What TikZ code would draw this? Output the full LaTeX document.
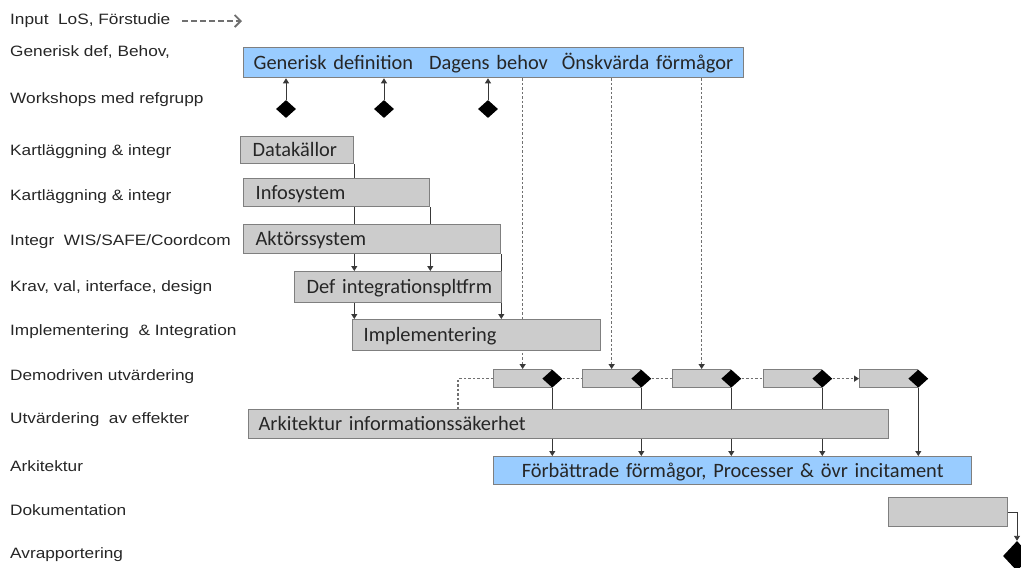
\documentclass[tikz,border=0pt]{standalone}
\usepackage{fontspec}
\setmainfont{Carlito}
\newfontfamily\lblfont[FakeStretch=1.15]{Liberation Sans}
\usetikzlibrary{shapes.geometric,arrows.meta}
\pgfdeclarelayer{back}
\pgfsetlayers{back,main}

\definecolor{boxgray}{HTML}{CCCCCC}
\definecolor{boxline}{HTML}{7F7F7F}
\definecolor{skyfill}{HTML}{99CCFF}
\definecolor{linkgray}{HTML}{383838}
\definecolor{hintgray}{HTML}{707070}
\definecolor{txt}{HTML}{262626}

\begin{document}
\begin{tikzpicture}[x=1pt,y=-1pt,
  rowlabel/.style={anchor=west, inner sep=0, font=\lblfont\fontsize{15}{17}\selectfont, text=txt},
  bar/.style={draw=boxline, line width=1.3pt, fill=boxgray, anchor=north west,
    inner xsep=12, inner ysep=0, align=left, text height=15pt, text depth=2pt,
    font=\fontsize{20.4}{22}\selectfont, text=txt},
  skybar/.style={bar, fill=skyfill},
  ms/.style={diamond, fill=black, inner sep=0, minimum width=20, minimum height=18},
  link/.style={draw=linkgray, line width=0.9pt},
  flow/.style={link, -{Triangle[length=5pt,width=6pt]}},
  hint/.style={draw=hintgray, line width=1.2pt, dash pattern=on 2.5pt off 2pt},
  hintflow/.style={hint, -{Triangle[length=5pt,width=6pt,color=linkgray,fill=linkgray]}},
  inarrow/.style={draw=hintgray, line width=2pt, dash pattern=on 6pt off 3pt,
    -{Straight Barb[length=6pt,width=12pt,line width=1.8pt]}},
]
\useasboundingbox (0,0) rectangle (1021,568);

% ---- row labels
\node[rowlabel] (lin)   at (10,21)  {Input~ LoS, Förstudie};
\node[rowlabel] (lgen)  at (10,52)  {Generisk def, Behov,};
\node[rowlabel] (lws)   at (10,100) {Workshops med refgrupp};
\node[rowlabel] (lk1)   at (10,152) {Kartläggning \& integr};
\node[rowlabel] (lk2)   at (10,197) {Kartläggning \& integr};
\node[rowlabel] (lint)  at (10,242) {Integr~ WIS/SAFE/Coordcom};
\node[rowlabel] (lkrav) at (10,288) {Krav, val, interface, design};
\node[rowlabel] (limp)  at (10,332) {Implementering~ \& Integration};
\node[rowlabel] (ldemo) at (10,377) {Demodriven utvärdering};
\node[rowlabel] (lutv)  at (10,420) {Utvärdering~ av effekter};
\node[rowlabel] (lark)  at (10,466) {Arkitektur};
\node[rowlabel] (ldok)  at (10,510) {Dokumentation};
\node[rowlabel] (lavr)  at (10,555) {Avrapportering};

\coordinate (inA) at (182,21);
\coordinate (inB) at (242,21);
\draw[inarrow] (inA) -- (inB);

% ---- bars
\node[skybar, minimum height=30, inner xsep=10, text width=480] (goal) at (243,47)
  {Generisk definition\hspace{16pt}Dagens behov\hspace{14pt}Önskvärda förmågor};

\node[bar, minimum height=27, text width=89]  (src)   at (240,136) {Datakällor};
\node[bar, minimum height=28, text width=162] (info)  at (243,178) {Infosystem};
\node[bar, minimum height=29, text width=233] (actor) at (243,224) {Aktörssystem};
\node[bar, minimum height=31, text width=183] (platf) at (294,271) {\mbox{Def integrationspltfrm}};
\node[bar, minimum height=31, inner xsep=11, text width=226] (impl) at (352,319) {Implementering};

\node[bar, minimum width=58, minimum height=18] (d1) at (493,369) {};
\node[bar, minimum width=58, minimum height=18] (d2) at (582,369) {};
\node[bar, minimum width=58, minimum height=18] (d3) at (672,369) {};
\node[bar, minimum width=58, minimum height=18] (d4) at (763,369) {};
\node[bar, minimum width=58, minimum height=18] (d5) at (859,369) {};

\node[bar, minimum height=29, inner xsep=10, text width=620] (arch) at (248,409)
  {Arkitektur informationssäkerhet};
\node[skybar, minimum height=28, text width=454, align=center] (better) at (493,456)
  {Förbättrade förmågor, Processer \& övr incitament};
\node[bar, minimum width=119, minimum height=29] (docu) at (888,497) {};

% ---- milestones
\node[ms] (w1) at (286,109) {};
\node[ms] (w2) at (384,109) {};
\node[ms] (w3) at (488,109) {};
\node[ms] (m1) at (d1.east) {};
\node[ms] (m2) at (d2.east) {};
\node[ms] (m3) at (d3.east) {};
\node[ms] (m4) at (d4.east) {};
\node[ms] (m5) at (d5.east) {};
\node[ms, minimum width=28, minimum height=30] (fin) at (1017,556) {};

\coordinate (turn) at (458,0);

% ---- connectors
\begin{pgfonlayer}{back}
  \draw[flow] (w1.north) -- (w1.north |- goal.south);
  \draw[flow] (w2.north) -- (w2.north |- goal.south);
  \draw[flow] (w3.north) -- (w3.north |- goal.south);

  \draw[link] (src.south east) -- (src.east |- info.north);
  \draw[link] (src.east |- info.south) -- (src.east |- actor.north);
  \draw[link] (info.south east) -- (info.east |- actor.north);
  \draw[flow] (src.east |- actor.south) -- (src.east |- platf.north);
  \draw[flow] (info.east |- actor.south) -- (info.east |- platf.north);
  \draw[flow] (actor.south east) -- (actor.east |- impl.north);
  \draw[flow] (src.east |- platf.south) -- (src.east |- impl.north);

  \draw[hintflow] (d1.north |- goal.south) -- (d1.north);
  \draw[hintflow] (d2.north |- goal.south) -- (d2.north);
  \draw[hintflow] (d3.north |- goal.south) -- (d3.north);

  \draw[hint] (m1.east) -- (d2.west);
  \draw[hint] (m2.east) -- (d3.west);
  \draw[hint] (m3.east) -- (d4.west);
  \draw[hintflow] (m4.east) -- (d5.west);
  \draw[hint] (d1.west) -- (d1.west -| turn) -- (turn |- arch.north);

  \draw[link] (m1.south) -- (m1.south |- arch.north);
  \draw[link] (m2.south) -- (m2.south |- arch.north);
  \draw[link] (m3.south) -- (m3.south |- arch.north);
  \draw[link] (m4.south) -- (m4.south |- arch.north);
  \draw[flow] (m1.south |- arch.south) -- (m1.south |- better.north);
  \draw[flow] (m2.south |- arch.south) -- (m2.south |- better.north);
  \draw[flow] (m3.south |- arch.south) -- (m3.south |- better.north);
  \draw[flow] (m4.south |- arch.south) -- (m4.south |- better.north);
  \draw[flow] (m5.south) -- (m5.south |- better.north);

  \draw[flow] (docu.east) -- (docu.east -| fin.north) -- (fin.north);
\end{pgfonlayer}
\end{tikzpicture}
\end{document}
